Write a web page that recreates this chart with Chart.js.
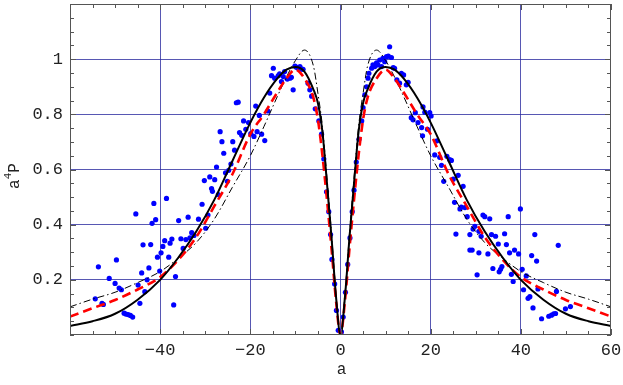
<!DOCTYPE html>
<html>
<head>
<meta charset="utf-8">
<script src="https://cdn.jsdelivr.net/npm/chart.js@4.4.1/dist/chart.umd.min.js"></script>
<style>
  html, body { margin: 0; padding: 0; background: #fff; }
</style>
</head>
<body>
<canvas id="chart" width="623" height="385"></canvas>
<script>
// Curves sampled on a shared grid of a
const aGrid = [-60, -55, -50, -45, -40, -36, -32, -28, -24, -20, -17, -14, -12, -10, -8, -6, -5, -4, -3, -2, -1, 0,
  1, 2, 3, 4, 5, 6, 8, 10, 12, 14, 17, 20, 24, 28, 32, 36, 40, 45, 50, 55, 60];

const solidP = [0.033, 0.05, 0.077, 0.128, 0.2, 0.28, 0.375, 0.49, 0.63, 0.77, 0.86, 0.93, 0.962, 0.972, 0.955, 0.89, 0.84, 0.735, 0.55, 0.355, 0.14, 0,
  0.14, 0.355, 0.55, 0.735, 0.84, 0.89, 0.955, 0.972, 0.962, 0.93, 0.86, 0.77, 0.63, 0.49, 0.375, 0.28, 0.2, 0.128, 0.077, 0.05, 0.033];

const redP = [0.067, 0.097, 0.127, 0.165, 0.21, 0.272, 0.355, 0.467, 0.582, 0.728, 0.8, 0.88, 0.93, 0.962, 0.93, 0.86, 0.78, 0.65, 0.49, 0.315, 0.125, 0,
  0.125, 0.315, 0.49, 0.65, 0.78, 0.86, 0.93, 0.962, 0.93, 0.88, 0.8, 0.728, 0.582, 0.467, 0.355, 0.272, 0.21, 0.165, 0.127, 0.097, 0.067];

const dashDotP = [0.102, 0.13, 0.155, 0.19, 0.23, 0.278, 0.335, 0.42, 0.535, 0.65, 0.755, 0.865, 0.935, 0.995, 1.033, 0.975, 0.875, 0.755, 0.57, 0.37, 0.15, 0,
  0.15, 0.37, 0.57, 0.755, 0.875, 0.975, 1.033, 0.995, 0.935, 0.865, 0.755, 0.65, 0.535, 0.42, 0.335, 0.278, 0.23, 0.19, 0.155, 0.13, 0.102];

// Measured points
const ptA = [
  -54.4, -53.7, -52.9, -52.6, -51.3, -50.0, -49.7, -49.1, -48.6, -48.0, -47.6, -47.1, -46.6, -46.1,
  -45.4, -44.9, -44.5, -44.1, -43.8, -43.4, -42.9, -42.5, -42.1, -41.8, -41.4, -41.0, -40.6, -40.1,
  -39.8, -39.4, -39.0, -38.6, -38.1, -37.8, -37.4, -37.0, -36.6, -35.9, -35.4, -34.9, -34.3, -33.8,
  -33.4, -33.0, -32.5, -31.5, -30.7, -30.2, -29.9, -29.4, -29.0, -28.6, -28.4, -27.9, -27.5, -27.1,
  -26.7, -26.3, -25.9, -25.5, -25.1, -24.8, -24.3, -23.9, -23.5, -23.1, -22.7, -22.4, -21.9, -21.5,
  -21.0, -20.4, -19.9, -19.2, -18.8, -18.5, -18.0, -17.5, -16.8, -16.1, -15.7, -15.3, -14.9, -14.6,
  -13.8, -13.5, -13.1, -12.7, -12.4, -11.8, -11.2, -10.9, -10.5, -10.1, -9.8, -9.4, -9.0, -8.6,
  -8.3, -7.2, -6.8, -6.4, -5.6, -4.8, -4.2, -3.7, -3.1, -2.6, -2.2, -1.9, -1.3, -0.9, -0.5,
  0.2, 0.6, 1.1, 1.6, 2.1, 2.6, 3.0, 3.5, 4.1, 4.7, 5.0, 5.4, 5.8, 6.1, 6.3, 6.9, 7.2, 7.6, 8.0,
  8.3, 8.7, 9.1, 9.4, 9.8, 10.2, 10.6, 10.9, 11.3, 11.7, 12.0, 12.5, 13.1, 13.5, 14.0, 14.6, 15.0,
  15.7, 16.1, 16.6, 17.2, 18.0, 18.2, 18.3, 18.7, 19.3, 19.8, 20.1, 20.9, 21.4, 22.0, 22.4, 22.9,
  23.6, 24.2, 24.6, 25.0, 25.3, 25.6, 26.1, 26.5, 26.8, 27.2, 27.6, 28.1, 28.7, 28.7, 29.2, 29.4,
  29.8, 30.3, 30.7, 30.7, 31.2, 31.6, 32.0, 32.7, 33.1, 33.5, 33.8, 34.4, 35.0, 35.2, 35.5, 35.8,
  36.4, 36.8, 37.2, 37.5, 37.9, 38.3, 38.6, 39.5, 39.9, 40.3, 40.6, 41.2, 41.6, 42.0, 42.4, 42.7,
  43.1, 43.5, 43.8, 44.6, 46.2, 46.8, 47.3, 47.7, 47.9, 48.3, 49.9, 51.0
];
const ptP = [
  0.131, 0.247, 0.115, 0.111, 0.205, 0.187, 0.272, 0.170, 0.164, 0.079, 0.076, 0.074, 0.071, 0.065,
  0.439, 0.181, 0.115, 0.225, 0.327, 0.157, 0.200, 0.243, 0.328, 0.405, 0.477, 0.418, 0.282, 0.232,
  0.298, 0.321, 0.342, 0.495, 0.282, 0.333, 0.348, 0.109, 0.212, 0.415, 0.349, 0.314, 0.346, 0.427,
  0.352, 0.371, 0.361, 0.420, 0.474, 0.560, 0.387, 0.435, 0.573, 0.531, 0.521, 0.563, 0.609, 0.509,
  0.737, 0.701, 0.659, 0.588, 0.557, 0.597, 0.620, 0.701, 0.670, 0.842, 0.844, 0.734, 0.724, 0.776,
  0.746, 0.770, 0.730, 0.720, 0.830, 0.737, 0.796, 0.728, 0.705, 0.812, 0.877, 0.940, 0.967, 0.931,
  0.940, 0.947, 0.919, 0.937, 0.955, 0.928, 0.931, 0.934, 0.889, 0.975, 0.971, 0.967, 0.973, 0.964,
  0.963, 0.913, 0.889, 0.866, 0.820, 0.776, 0.728, 0.638, 0.519, 0.447, 0.364, 0.274, 0.185, 0.089, 0.017,
  0.011, 0.065, 0.155, 0.256, 0.352, 0.447, 0.525, 0.627, 0.710, 0.776, 0.824, 0.871, 0.900, 0.931, 0.949, 0.967, 0.979, 0.973, 0.987,
  0.979, 0.997, 0.973, 1.003, 0.991, 1.009, 1.011, 1.045, 1.006, 0.969, 0.967, 0.925, 0.913, 0.949, 0.943, 0.907, 0.916,
  0.788, 0.780, 0.806, 0.770, 0.752, 0.722, 0.827, 0.808, 0.746, 0.806, 0.794, 0.653, 0.704, 0.644, 0.615, 0.557,
  0.648, 0.636, 0.633, 0.565, 0.481, 0.366, 0.579, 0.457, 0.464, 0.539, 0.462, 0.429, 0.364, 0.308, 0.308, 0.384,
  0.394, 0.218, 0.376, 0.298, 0.358, 0.435, 0.429, 0.294, 0.421, 0.364, 0.241, 0.358, 0.330, 0.229, 0.238, 0.248,
  0.367, 0.328, 0.429, 0.298, 0.220, 0.194, 0.308, 0.294, 0.457, 0.238, 0.164, 0.214, 0.133, 0.139, 0.288, 0.098,
  0.364, 0.268, 0.167, 0.059, 0.068, 0.072, 0.077, 0.078, 0.158, 0.325, 0.095, 0.103
];

const xTickLabels = [-40, -20, 0, 20, 40, 60];
const yTickLabels = [0.2, 0.4, 0.6, 0.8, 1];

const GRID = 'rgba(45,45,160,0.8)';
const FONT = "'Liberation Mono', 'DejaVu Sans Mono', monospace";

function toXY(xs, ys) {
  return xs.map((x, i) => ({ x: x, y: ys[i] }));
}
function isLabel(list, v) {
  return list.some(t => Math.abs(t - v) < 1e-6);
}

// Frame, inward tick marks and axis titles
const framePlugin = {
  id: 'frame',
  afterDraw(chart) {
    const ctx = chart.ctx;
    const a = chart.chartArea;
    const xs = chart.scales.x, ys = chart.scales.y;
    ctx.save();
    ctx.strokeStyle = '#555';
    ctx.lineWidth = 1;
    ctx.strokeRect(a.left + 0.5, a.top + 0.5, a.right - a.left - 1, a.bottom - a.top - 1);

    ctx.beginPath();
    xs.ticks.forEach(t => {
      const px = Math.round(xs.getPixelForValue(t.value)) + 0.5;
      const len = isLabel(xTickLabels, t.value) ? 6 : 4;
      ctx.moveTo(px, a.bottom); ctx.lineTo(px, a.bottom - len);
      ctx.moveTo(px, a.top); ctx.lineTo(px, a.top + len);
    });
    ys.ticks.forEach(t => {
      const py = Math.round(ys.getPixelForValue(t.value)) + 0.5;
      const len = isLabel(yTickLabels, t.value) ? 6 : 4;
      ctx.moveTo(a.left, py); ctx.lineTo(a.left + len, py);
      ctx.moveTo(a.right, py); ctx.lineTo(a.right - len, py);
    });
    ctx.stroke();

    // x title
    ctx.fillStyle = '#222';
    ctx.font = '16px ' + FONT;
    ctx.textAlign = 'center';
    ctx.textBaseline = 'alphabetic';
    ctx.fillText('a', (a.left + a.right) / 2 + 1, 374);

    // y title: a^4 P, rotated
    ctx.translate(19, 176);
    ctx.rotate(-Math.PI / 2);
    ctx.textAlign = 'left';
    const wa = ctx.measureText('a').width;
    ctx.font = '11px ' + FONT;
    const w4 = ctx.measureText('4').width;
    ctx.font = '16px ' + FONT;
    const wp = ctx.measureText('P').width;
    let x0 = -(wa + w4 + wp) / 2;
    ctx.fillText('a', x0, 0);
    ctx.font = '11px ' + FONT;
    ctx.fillText('4', x0 + wa, -8);
    ctx.font = '16px ' + FONT;
    ctx.fillText('P', x0 + wa + w4, 0);
    ctx.restore();
  }
};

const lineBase = { showLine: true, pointRadius: 0, fill: false, cubicInterpolationMode: 'monotone' };

new Chart(document.getElementById('chart'), {
  type: 'scatter',
  data: {
    datasets: [
      Object.assign({ data: toXY(aGrid, solidP), borderColor: '#000', borderWidth: 2 }, lineBase),
      Object.assign({ data: toXY(aGrid, redP), borderColor: '#f00', borderWidth: 2.6, borderDash: [9, 5] }, lineBase),
      Object.assign({ data: toXY(aGrid, dashDotP), borderColor: '#000', borderWidth: 1, borderDash: [7, 3, 1.5, 3] }, lineBase),
      { data: toXY(ptA, ptP), backgroundColor: '#0000ff', borderWidth: 0, pointRadius: 2.6, showLine: false }
    ]
  },
  options: {
    responsive: false,
    animation: false,
    layout: { padding: { left: 0, right: 12, top: 0, bottom: 0 } },
    plugins: { legend: { display: false }, tooltip: { enabled: false } },
    scales: {
      x: {
        type: 'linear', min: -60, max: 60,
        afterFit: s => { s.height = 50; s.paddingLeft = 0; s.paddingRight = 0; },
        border: { display: false },
        grid: {
          drawTicks: false,
          lineWidth: 1,
          color: c => (c.tick && isLabel(xTickLabels, c.tick.value) && c.tick.value < 60) ? GRID : 'transparent'
        },
        ticks: {
          stepSize: 5, autoSkip: false, maxRotation: 0, padding: 5,
          color: '#222', font: { family: FONT, size: 17 },
          callback: v => isLabel(xTickLabels, v) ? (v < 0 ? '\u2212' + (-v) : String(v)) : ''
        }
      },
      y: {
        type: 'linear', min: 0, max: 1.2,
        afterFit: s => { s.width = 70; s.paddingTop = 0; s.paddingBottom = 0; },
        border: { display: false },
        grid: {
          drawTicks: false,
          lineWidth: 1,
          color: c => (c.tick && isLabel(yTickLabels, c.tick.value)) ? GRID : 'transparent'
        },
        ticks: {
          stepSize: 0.05, autoSkip: false, padding: 7,
          color: '#222', font: { family: FONT, size: 17 },
          callback: v => isLabel(yTickLabels, v) ? String(Math.round(v * 10) / 10) : ''
        }
      }
    }
  },
  plugins: [framePlugin]
});
</script>
</body>
</html>
